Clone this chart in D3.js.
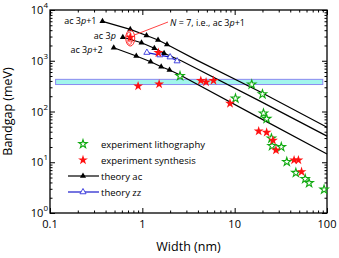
<!DOCTYPE html>
<html>
<head>
<meta charset="utf-8">
<script src="https://cdn.jsdelivr.net/npm/d3@7"></script>
<style>
  body { margin: 0; background: #fff; }
  svg { font-family: "Open Sans", "Liberation Sans", sans-serif; }
</style>
</head>
<body>
<div class="chart"></div>
<script>
// chart data
// theory ac families: computed points (triangles) + extension of the fit
var ac1Widths = [0.37, 0.74, 1.11, 1.48, 1.85];
var ac1Gaps = [5980, 4150, 3140, 2560, 2090];
var ac1FitWidths = [0.37, 0.74, 1.11, 1.48, 1.85, 3.88, 18.8, 100];
var ac1FitGaps = [5980, 4150, 3140, 2560, 2090, 1030, 245, 49];

var ac0Widths = [0.615, 0.98, 1.35, 1.72];
var ac0Gaps = [2900, 2265, 1760, 1410];
var ac0FitWidths = [0.615, 0.98, 1.35, 1.72, 2.67, 18.8, 100];
var ac0FitGaps = [2900, 2265, 1760, 1410, 986, 160, 32.7];

var ac2Widths = [0.49, 0.86, 1.23, 1.6, 1.97];
var ac2Gaps = [1805, 1240, 955, 762, 656];
var ac2FitWidths = [0.49, 0.86, 1.23, 1.6, 1.97, 2.56, 18.8, 100];
var ac2FitGaps = [1805, 1240, 955, 762, 656, 522, 74, 14.5];

var zzWidths = [1.12, 1.55, 2.0, 2.38];
var zzGaps = [1450, 1295, 1180, 986];

var lithoWidths = [2.56, 15.3, 20, 10.2, 20.5, 22.2, 25, 25.4, 32, 36.7, 46, 58, 64, 93];
var lithoGaps = [500, 342, 220, 181, 92, 72, 29.5, 21, 20, 10.2, 6.2, 4.7, 3.9, 2.9];

var synthWidths = [0.74, 1.49, 0.9, 1.52, 4.3, 4.9, 5.9, 8.9, 18.2, 22.2, 26, 28, 44, 49, 53];
var synthGaps = [2900, 1440, 317, 347, 407, 380, 407, 144, 41, 38.7, 27, 17.3, 11, 11, 6.5];

// N = 7 extra synthesis points (open circles inside the ellipse)
var n7Widths = [0.72, 0.75, 0.73];
var n7Gaps = [3300, 2550, 2300];

// shaded band
var bandWidths = [0.115, 90];
var bandGaps = [340, 430];

var xTicks = [0.1, 1, 10, 100];
var xTickLabels = ["0.1", "1", "10", "100"];
var yTicks = [1, 10, 100, 1000, 10000];
var yTickExp = ["0", "1", "2", "3", "4"];

// Step 1: set up chart
var svgWidth = 339;
var svgHeight = 258;
var margin = { top: 10, right: 12, bottom: 45, left: 50 };
var width = svgWidth - margin.left - margin.right;
var height = svgHeight - margin.top - margin.bottom;

var svg = d3.select(".chart")
  .append("svg")
  .attr("width", svgWidth)
  .attr("height", svgHeight);

var chartGroup = svg.append("g")
  .attr("transform", `translate(${margin.left}, ${margin.top})`);

// Step 2: scales
var x = d3.scaleLog().domain([0.1, 100]).range([0, width]);
var y = d3.scaleLog().domain([1, 10000]).range([height, 0]);

// minor tick values
var xMinor = [];
[0.1, 1, 10].forEach(d => { for (var k = 2; k <= 9; k++) xMinor.push(d * k); });
var yMinor = [];
[1, 10, 100, 1000].forEach(d => { for (var k = 2; k <= 9; k++) yMinor.push(d * k); });

// Step 3: shaded band
chartGroup.append("rect")
  .attr("x", x(bandWidths[0]))
  .attr("y", y(bandGaps[1]))
  .attr("width", x(bandWidths[1]) - x(bandWidths[0]))
  .attr("height", y(bandGaps[0]) - y(bandGaps[1]))
  .attr("fill", "#a2f5ec")
  .attr("stroke", "#8a8af0")
  .attr("stroke-width", 1);

// Step 4: axes (ticks point inward, box all round)
function addAxis(axisFn, scale, values, size, transform) {
  var g = chartGroup.append("g")
    .attr("transform", transform)
    .call(axisFn(scale).tickValues(values).tickSizeInner(size).tickSizeOuter(0).tickFormat(""));
  g.select(".domain").remove();
  g.selectAll("line").attr("stroke", "#000").attr("stroke-width", 1);
  return g;
}
addAxis(d3.axisBottom, x, xTicks, -5, `translate(0, ${height})`);
addAxis(d3.axisBottom, x, xMinor, -2.5, `translate(0, ${height})`);
addAxis(d3.axisTop, x, xTicks, -5, "translate(0,0)");
addAxis(d3.axisTop, x, xMinor, -2.5, "translate(0,0)");
addAxis(d3.axisLeft, y, yTicks, -5, "translate(0,0)");
addAxis(d3.axisLeft, y, yMinor, -2.5, "translate(0,0)");
addAxis(d3.axisRight, y, yTicks, -5, `translate(${width},0)`);
addAxis(d3.axisRight, y, yMinor, -2.5, `translate(${width},0)`);

chartGroup.append("rect")
  .attr("width", width)
  .attr("height", height)
  .attr("fill", "none")
  .attr("stroke", "#000")
  .attr("stroke-width", 1.3);

// tick labels
chartGroup.selectAll(".xlab")
  .data(xTicks)
  .enter()
  .append("text")
  .attr("class", "xlab")
  .attr("x", d => x(d))
  .attr("y", height + 15)
  .attr("text-anchor", "middle")
  .attr("font-size", 11)
  .text((d, i) => xTickLabels[i]);

var yLab = chartGroup.selectAll(".ylab")
  .data(yTicks)
  .enter()
  .append("text")
  .attr("class", "ylab")
  .attr("x", -2)
  .attr("y", d => y(d) + 4)
  .attr("text-anchor", "end")
  .attr("font-size", 11);
yLab.append("tspan").text("10");
yLab.append("tspan")
  .attr("dy", -6)
  .attr("font-size", 8)
  .text((d, i) => yTickExp[i]);

// axis titles
chartGroup.append("text")
  .attr("x", width / 2)
  .attr("y", height + 38)
  .attr("text-anchor", "middle")
  .attr("font-size", 12.5)
  .text("Width (nm)");

chartGroup.append("text")
  .attr("transform", "rotate(-90)")
  .attr("x", -height / 2)
  .attr("y", -38)
  .attr("text-anchor", "middle")
  .attr("font-size", 12.5)
  .text("Bandgap (meV)");

// Step 5: theory lines
var line = d3.line().x(d => x(d[0])).y(d => y(d[1]));
var zip = (a, b) => a.map((d, i) => [d, b[i]]);

[[ac1FitWidths, ac1FitGaps], [ac0FitWidths, ac0FitGaps], [ac2FitWidths, ac2FitGaps]].forEach(s => {
  chartGroup.append("path")
    .datum(zip(s[0], s[1]))
    .attr("d", line)
    .attr("fill", "none")
    .attr("stroke", "#000")
    .attr("stroke-width", 1.2);
});

var tri = d3.symbol().type(d3.symbolTriangle).size(16);
[[ac1Widths, ac1Gaps], [ac0Widths, ac0Gaps], [ac2Widths, ac2Gaps]].forEach(s => {
  chartGroup.append("g").selectAll("path")
    .data(zip(s[0], s[1]))
    .enter()
    .append("path")
    .attr("d", tri)
    .attr("transform", d => `translate(${x(d[0])}, ${y(d[1])})`)
    .attr("fill", "#000");
});

// zigzag theory
chartGroup.append("path")
  .datum(zip(zzWidths, zzGaps))
  .attr("d", line)
  .attr("fill", "none")
  .attr("stroke", "#1a1acc")
  .attr("stroke-width", 1.2);
chartGroup.append("g").selectAll("path")
  .data(zip(zzWidths, zzGaps))
  .enter()
  .append("path")
  .attr("d", tri)
  .attr("transform", d => `translate(${x(d[0])}, ${y(d[1])})`)
  .attr("fill", "#fff")
  .attr("stroke", "#3333dd")
  .attr("stroke-width", 0.9);

// family labels: [text, suffix, first width, first gap, dx, dy]
var famLabels = [
  ["ac 3", "+1", ac1Widths[0], ac1Gaps[0], -6, 3],
  ["ac 3", "", ac0Widths[0], ac0Gaps[0], -7, 2],
  ["ac 3", "+2", ac2Widths[0], ac2Gaps[0], -11, 5.5]
];
famLabels.forEach(f => {
  var t = chartGroup.append("text")
    .attr("x", x(f[2]) + f[4])
    .attr("y", y(f[3]) + f[5])
    .attr("text-anchor", "end")
    .attr("font-size", 9);
  t.append("tspan").text(f[0]);
  t.append("tspan").attr("font-style", "italic").text("p");
  t.append("tspan").text(f[1]);
});

// Step 6: N = 7 ellipse and annotation
var ex = x(0.74), ey = y(2800);
chartGroup.append("ellipse")
  .attr("cx", ex)
  .attr("cy", ey)
  .attr("rx", 4.5)
  .attr("ry", 8)
  .attr("fill", "none")
  .attr("stroke", "#ff2222")
  .attr("stroke-width", 1);
chartGroup.selectAll(".n7")
  .data(zip(n7Widths, n7Gaps))
  .enter()
  .append("circle")
  .attr("class", "n7")
  .attr("cx", d => x(d[0]))
  .attr("cy", d => y(d[1]))
  .attr("r", 2)
  .attr("fill", "none")
  .attr("stroke", "#ff3333")
  .attr("stroke-width", 0.8);
chartGroup.append("line")
  .attr("x1", ex + 4)
  .attr("y1", ey - 3)
  .attr("x2", 118)
  .attr("y2", 12)
  .attr("stroke", "#ff4444")
  .attr("stroke-width", 1);
var ann = chartGroup.append("text")
  .attr("x", 120)
  .attr("y", 16)
  .attr("font-size", 9);
ann.append("tspan").attr("font-style", "italic").text("N");
ann.append("tspan").text(" = 7, i.e., ac 3");
ann.append("tspan").attr("font-style", "italic").text("p");
ann.append("tspan").text("+1");

// Step 7: experiments
var star = d3.symbol().type(d3.symbolStar).size(30);
var starOpen = d3.symbol().type(d3.symbolStar).size(22);
chartGroup.append("g").selectAll("path")
  .data(zip(lithoWidths, lithoGaps))
  .enter()
  .append("path")
  .attr("d", starOpen)
  .attr("transform", d => `translate(${x(d[0])}, ${y(d[1])})`)
  .attr("fill", "#fff")
  .attr("stroke", "#11aa11")
  .attr("stroke-width", 1.1);

chartGroup.append("g").selectAll("path")
  .data(zip(synthWidths, synthGaps))
  .enter()
  .append("path")
  .attr("d", star)
  .attr("transform", d => `translate(${x(d[0])}, ${y(d[1])})`)
  .attr("fill", "#ff1111");

// Step 8: legend
var legendItems = ["experiment lithography", "experiment synthesis", "theory ac", "theory zz"];
var legend = chartGroup.append("g").attr("transform", "translate(33, 134)");
legendItems.forEach((name, i) => {
  var ly = i * 16;
  if (i === 0) {
    legend.append("path").attr("d", starOpen).attr("transform", `translate(0, ${ly})`)
      .attr("fill", "#fff").attr("stroke", "#11aa11").attr("stroke-width", 1.1);
  } else if (i === 1) {
    legend.append("path").attr("d", star).attr("transform", `translate(0, ${ly})`)
      .attr("fill", "#ff1111");
  } else {
    var col = i === 2 ? "#000" : "#1a1acc";
    legend.append("line").attr("x1", -15).attr("x2", 16).attr("y1", ly).attr("y2", ly)
      .attr("stroke", col).attr("stroke-width", 1.2);
    legend.append("path").attr("d", tri).attr("transform", `translate(0, ${ly})`)
      .attr("fill", i === 2 ? "#000" : "#fff")
      .attr("stroke", i === 2 ? "none" : "#3333dd").attr("stroke-width", 0.9);
  }
  legend.append("text")
    .attr("x", 18)
    .attr("y", ly + 3.5)
    .attr("font-size", 9.5)
    .text(name);
});
</script>
</body>
</html>
